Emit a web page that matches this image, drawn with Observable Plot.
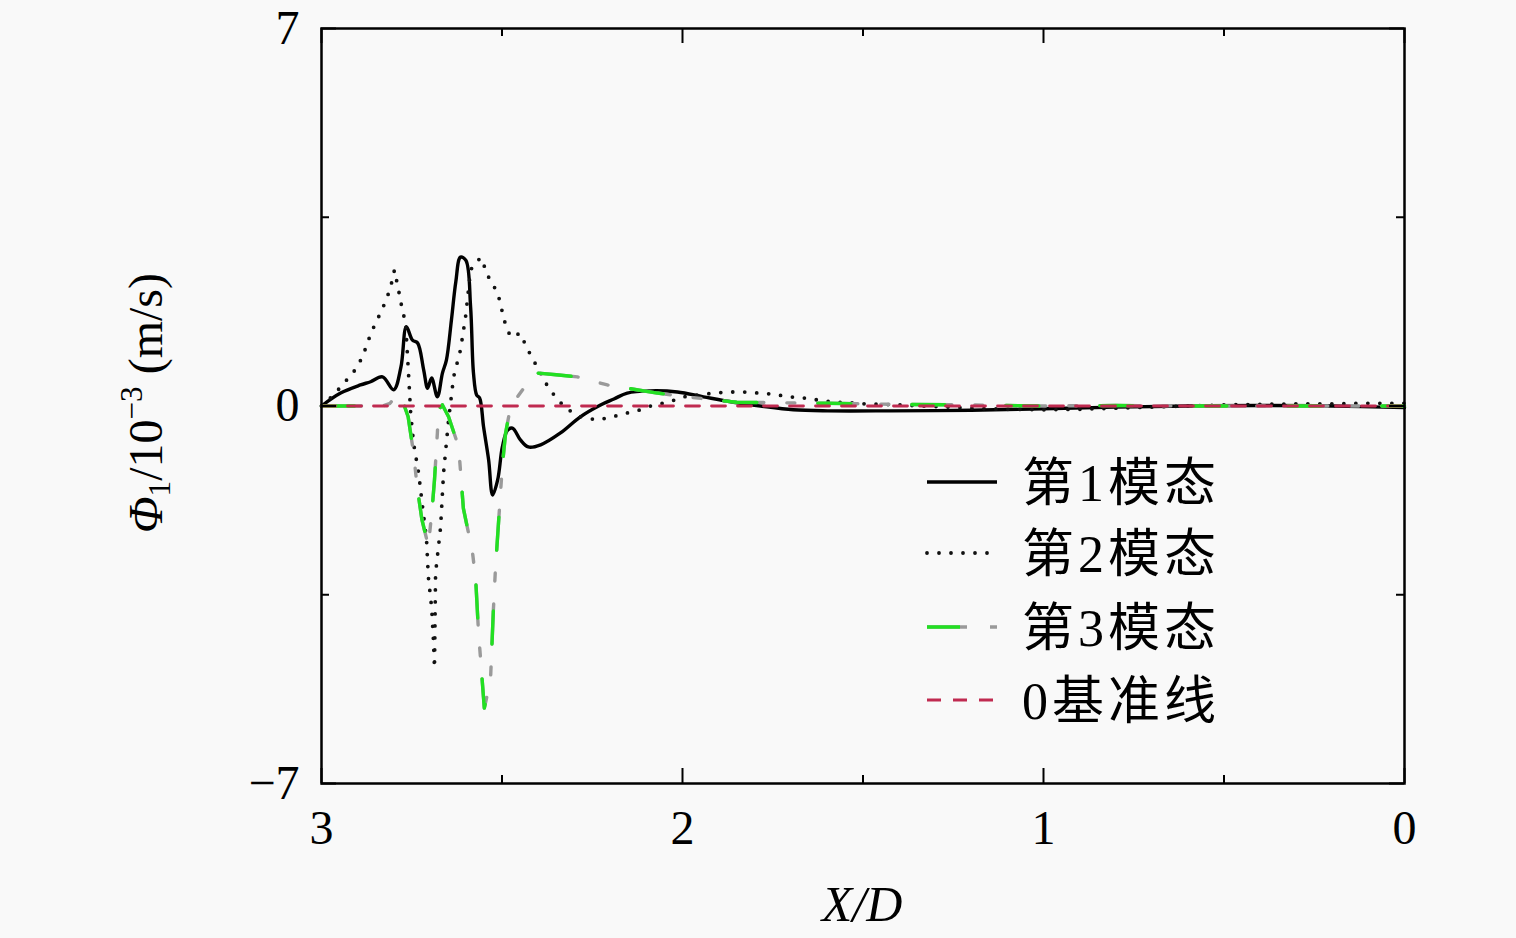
<!DOCTYPE html>
<html><head><meta charset="utf-8">
<script src="https://cdn.jsdelivr.net/npm/d3@7"></script>
<script src="https://cdn.jsdelivr.net/npm/@observablehq/plot@0.6"></script>
<style>html,body{margin:0;padding:0;background:#f9f9f9;overflow:hidden;} #chart{width:1516px;height:938px;}</style>
</head><body><div id="chart"></div>
<script>
// ---- data ----
const mode1X = [3.000, 2.947, 2.892, 2.864, 2.831, 2.800, 2.780, 2.765, 2.748, 2.734, 2.717, 2.706, 2.695, 2.679, 2.665, 2.654, 2.640, 2.628, 2.615, 2.600, 2.587, 2.579, 2.570, 2.562, 2.551, 2.537, 2.526, 2.512, 2.499, 2.485, 2.471, 2.449, 2.427, 2.393, 2.338, 2.283, 2.227, 2.190, 2.153, 2.089, 2.014, 1.942, 1.859, 1.784, 1.693, 1.598, 1.424, 1.2, 1.0, 0.8, 0.6, 0.4, 0.2, 0.0];
const mode1Y = [0, 0.24, 0.39, 0.45, 0.54, 0.30, 0.72, 1.47, 1.22, 1.17, 0.67, 0.33, 0.52, 0.17, 0.61, 0.85, 1.6, 2.3, 2.76, 2.7, 1.84, 0.61, 0.2, 0.15, -0.39, -1.0, -1.65, -1.37, -0.76, -0.45, -0.41, -0.63, -0.76, -0.72, -0.5, -0.2, 0.02, 0.13, 0.24, 0.28, 0.26, 0.17, 0.07, 0, -0.07, -0.09, -0.09, -0.08, -0.05, -0.02, 0.0, 0.01, 0.0, -0.03];

const mode2X = [3.000, 2.967, 2.911, 2.886, 2.873, 2.859, 2.842, 2.823, 2.809, 2.798, 2.788, 2.776, 2.767, 2.759, 2.753, 2.745, 2.731, 2.720, 2.709, 2.704, 2.695, 2.690, 2.687, 2.684, 2.670, 2.662, 2.648, 2.634, 2.615, 2.601, 2.587, 2.570, 2.554, 2.545, 2.526, 2.509, 2.499, 2.490, 2.476, 2.449, 2.432, 2.413, 2.393, 2.374, 2.352, 2.324, 2.283, 2.235, 2.194, 2.153, 2.116, 2.080, 2.039, 1.997, 1.914, 1.873, 1.831, 1.789, 1.748, 1.706, 1.665, 1.623, 1.582, 1.540, 1.499, 1.4, 1.3, 1.2, 1.1, 1.0, 0.9, 0.8, 0.7, 0.6, 0.5, 0.4, 0.3, 0.2, 0.1, 0.0];
const mode2Y = [0, 0.2, 0.63, 0.91, 1.17, 1.41, 1.65, 1.93, 2.19, 2.52, 2.2, 1.78, 1.54, 0.61, -0.13, -0.69, -1.24, -1.87, -2.48, -3.17, -3.73, -4.34, -4.86, -3.10, -2.24, -1.25, -0.26, 0.54, 1.04, 1.65, 2.52, 2.7, 2.74, 2.47, 2.28, 2.02, 1.74, 1.50, 1.28, 1.35, 1.09, 0.85, 0.61, 0.37, 0.17, -0.04, -0.2, -0.26, -0.2, -0.13, -0.07, 0.02, 0.07, 0.17, 0.24, 0.26, 0.26, 0.24, 0.22, 0.17, 0.15, 0.11, 0.07, 0.06, 0.04, 0.02, -0.01, -0.04, -0.06, -0.07, -0.06, -0.04, -0.02, 0.0, 0.02, 0.03, 0.04, 0.04, 0.05, 0.05];

const mode3X = [3.0, 2.9, 2.83, 2.81, 2.795, 2.785, 2.773, 2.76, 2.745, 2.735, 2.722, 2.704, 2.693, 2.687, 2.679, 2.676, 2.665, 2.648, 2.620, 2.607, 2.582, 2.573, 2.565, 2.549, 2.532, 2.524, 2.518, 2.510, 2.499, 2.490, 2.476, 2.457, 2.429, 2.399, 2.35, 2.291, 2.208, 2.07, 1.99, 1.85, 1.6, 1.4, 1.2, 1.0, 0.8, 0.6, 0.4, 0.2, 0.0];
const mode3Y = [0, 0, 0, 0.05, 0.18, 0.2, 0.05, -0.2, -0.87, -1.5, -2.1, -2.6, -1.87, -1.37, -0.5, -0.07, 0.02, -0.2, -0.76, -1.9, -2.7, -3.2, -4.2, -5.6, -5.1, -3.8, -3.0, -2.2, -1.1, -0.5, 0.0, 0.17, 0.43, 0.61, 0.58, 0.54, 0.39, 0.24, 0.17, 0.07, 0.05, 0.03, 0.02, 0.0, 0.01, 0.0, 0.0, 0.0, 0.0];

const baselineX = [3, 0];
const baselineY = [0, 0];

const seriesNames = ["第1模态", "第2模态", "第3模态", "0基准线"];
const xMajor = [3, 2, 1, 0];
const xMinor = [2.5, 1.5, 0.5];
const yMajor = [7, 0, -7];
const yMinor = [3.5, -3.5];
const xTickLabels = ["3", "2", "1", "0"];
const yTickLabels = ["7", "0", "−7"];
const xLabel = "X/D";

// ---- build ----
const rows = (xs, ys) => xs.map((x, i) => ({x, y: ys[i]}));
const W = 1516, H = 938, mL = 321, mR = 112, mT = 28, mB = 155;
const kx = 3 / (W - mL - mR), ky = 14 / (H - mT - mB);
const majLen = 15, minLen = 8;
const serif = "'Liberation Serif','Times New Roman','Noto Sans CJK SC',serif";
const fs = 48;

const green = "#22e022", gray = "#9a9a9a", red = "#c02a50";

const chart = Plot.plot({
  width: W, height: H,
  marginLeft: mL, marginRight: mR, marginTop: mT, marginBottom: mB,
  x: {domain: [3, 0], axis: null},
  y: {domain: [-7, 7], axis: null},
  style: {background: "transparent", fontFamily: serif},
  marks: [
    Plot.line(rows(mode1X, mode1Y), {x: "x", y: "y", stroke: "black", strokeWidth: 3.4, curve: "catmull-rom"}),
    Plot.line(rows(mode2X, mode2Y), {x: "x", y: "y", stroke: "#111", strokeWidth: 3.8, strokeDasharray: "0 12", strokeLinecap: "round"}),
    Plot.line(rows(mode3X, mode3Y), {x: "x", y: "y", stroke: gray, strokeWidth: 3.4, strokeDasharray: "40 23 8 23"}),
    Plot.line(rows(mode3X, mode3Y), {x: "x", y: "y", stroke: green, strokeWidth: 3.4, strokeDasharray: "33 61"}),
    Plot.line(rows(baselineX, baselineY), {x: "x", y: "y", stroke: red, strokeWidth: 2.8, strokeDasharray: "14 12"}),
    // inward ticks
    Plot.ruleX(xMajor, {x: d => d, y1: () => -7, y2: () => -7 + majLen * ky, stroke: "black", strokeWidth: 2}),
    Plot.ruleX(xMajor, {x: d => d, y1: () => 7, y2: () => 7 - majLen * ky, stroke: "black", strokeWidth: 2}),
    Plot.ruleX(xMinor, {x: d => d, y1: () => -7, y2: () => -7 + minLen * ky, stroke: "black", strokeWidth: 2}),
    Plot.ruleX(xMinor, {x: d => d, y1: () => 7, y2: () => 7 - minLen * ky, stroke: "black", strokeWidth: 2}),
    Plot.ruleY(yMajor, {y: d => d, x1: () => 3, x2: () => 3 - majLen * kx, stroke: "black", strokeWidth: 2}),
    Plot.ruleY(yMajor, {y: d => d, x1: () => 0, x2: () => 0 + majLen * kx, stroke: "black", strokeWidth: 2}),
    Plot.ruleY(yMinor, {y: d => d, x1: () => 3, x2: () => 3 - minLen * kx, stroke: "black", strokeWidth: 2}),
    Plot.ruleY(yMinor, {y: d => d, x1: () => 0, x2: () => 0 + minLen * kx, stroke: "black", strokeWidth: 2}),
    Plot.frame({stroke: "black", strokeWidth: 2.5}),
    // tick labels
    Plot.text(xMajor, {x: d => d, y: () => -7, text: (d, i) => xTickLabels[i], dy: 45, fontSize: fs, fill: "black", fontFamily: serif}),
    Plot.text(yMajor, {x: () => 3, y: d => d, text: (d, i) => yTickLabels[i], dx: -22, textAnchor: "end", fontSize: fs, fill: "black", fontFamily: serif})
  ]
});
document.getElementById("chart").appendChild(chart);

const svg = d3.select(chart);
// x label
svg.append("text").attr("x", 862).attr("y", 921).attr("text-anchor", "middle")
  .attr("font-family", serif).attr("font-size", 50).attr("font-style", "italic").attr("fill", "black").text(xLabel);
// y label
const yl = svg.append("text").attr("transform", "translate(162,403) rotate(-90)").attr("text-anchor", "middle")
  .attr("font-family", serif).attr("font-size", fs).attr("fill", "black");
yl.append("tspan").attr("font-style", "italic").text("Φ");
yl.append("tspan").attr("font-size", fs * 0.65).attr("dy", 8).text("1");
yl.append("tspan").attr("dy", -8).text("/10");
yl.append("tspan").attr("font-size", fs * 0.65).attr("dy", -20).text("−3");
yl.append("tspan").attr("dy", 20).text(" (m/s)");

// legend
const legY = [482, 553, 627, 700];
const lg = svg.append("g").attr("text-anchor", "start");
const seg = (i) => lg.append("line").attr("x1", 927).attr("x2", 997).attr("y1", legY[i]).attr("y2", legY[i]);
seg(0).attr("stroke", "black").attr("stroke-width", 3.4);
seg(1).attr("stroke", "#111").attr("stroke-width", 3.8).attr("stroke-dasharray", "0 12").attr("stroke-linecap", "round");
seg(2).attr("stroke", gray).attr("stroke-width", 3.4).attr("stroke-dasharray", "40 23 8 23");
seg(2).attr("stroke", green).attr("stroke-width", 3.4).attr("stroke-dasharray", "33 61");
seg(3).attr("stroke", red).attr("stroke-width", 2.8).attr("stroke-dasharray", "14 12");
seriesNames.forEach((name, i) => {
  lg.append("text").attr("x", 1022).attr("y", legY[i]).attr("dy", "0.36em").attr("text-anchor", "start")
    .attr("font-family", serif).attr("font-size", 52).attr("letter-spacing", 4).attr("fill", "black").text(name);
});
</script>
</body></html>
